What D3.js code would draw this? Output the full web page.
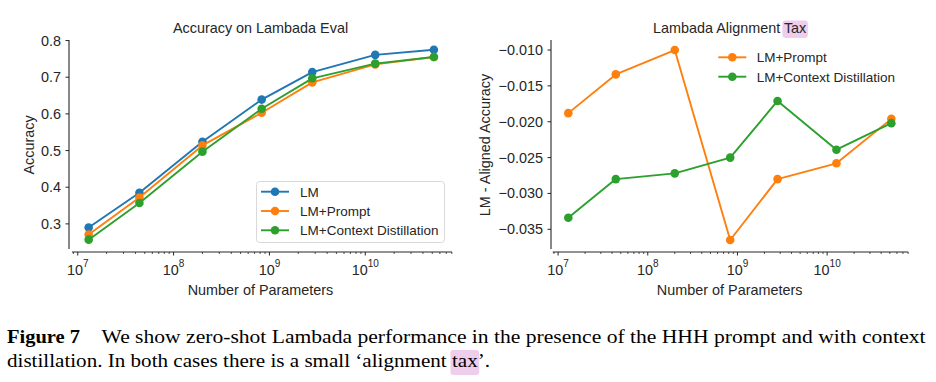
<!DOCTYPE html>
<html><head><meta charset="utf-8">
<script src="https://cdn.jsdelivr.net/npm/d3@7"></script>
<style>
html,body{margin:0;padding:0;background:#fff;}
svg{display:block;}
</style></head>
<body>
<svg id="c" width="936" height="382"></svg>
<script>
// ---- data ----
const params = [1.3e7, 4.4e7, 2.0e8, 8.3e8, 2.8e9, 1.27e10, 5.2e10];
const accLM      = [0.290, 0.385, 0.524, 0.639, 0.714, 0.761, 0.775];
const accPrompt  = [0.271, 0.372, 0.514, 0.603, 0.686, 0.735, 0.755];
const accContext = [0.257, 0.357, 0.497, 0.614, 0.697, 0.737, 0.755];
const taxPrompt  = [-0.0188, -0.0134, -0.0100, -0.0365, -0.0280, -0.0258, -0.0196];
const taxContext = [-0.0334, -0.0280, -0.0272, -0.0250, -0.0171, -0.0239, -0.0202];
const leftYTicks  = [0.3, 0.4, 0.5, 0.6, 0.7, 0.8];
const rightYTicks = [-0.035, -0.030, -0.025, -0.020, -0.015, -0.010];
const xMajor = [1e7, 1e8, 1e9, 1e10];
const seriesNames = ["LM", "LM+Prompt", "LM+Context Distillation"];
const colors = {"LM":"#1f77b4", "LM+Prompt":"#ff7f0e", "LM+Context Distillation":"#2ca02c"};

const svg = d3.select("#c");
const bg = svg.append("g");   // layer for highlight boxes
const ink = "#262626";
const FONT = "'Liberation Sans', Arial, sans-serif";
const HILITE = "#efcdec";

function drawPanel(opt){
  const g = svg.append("g");
  const x = d3.scaleLog().domain([Math.pow(10,6.94), Math.pow(10,10.905)]).range([opt.x0, opt.x1]);
  const y = d3.scaleLinear().domain(opt.yDomain).range([249, 40]);
  g.append("line").attr("x1", opt.ySpineX).attr("x2", opt.ySpineX).attr("y1", 40).attr("y2", 249)
    .attr("stroke", ink).attr("stroke-width", 1.1);
  const xsY = 252;
  g.append("line").attr("x1", opt.x0).attr("x2", opt.x1).attr("y1", xsY).attr("y2", xsY)
    .attr("stroke", ink).attr("stroke-width", 1.1);
  opt.yTicks.forEach(t=>{
    g.append("line").attr("x1", opt.ySpineX-3.5).attr("x2", opt.ySpineX).attr("y1", y(t)).attr("y2", y(t))
      .attr("stroke", ink).attr("stroke-width", 1);
    g.append("text").attr("x", opt.ySpineX-8).attr("y", y(t)+5).attr("text-anchor","end")
      .attr("font-family", FONT).attr("font-size", 14.4).attr("fill", ink).text(opt.yFmt(t));
  });
  const dom = x.domain();
  for (let e=6; e<=10; e++){
    for (let m=1; m<=9; m++){
      const v = m*Math.pow(10,e);
      if (v < dom[0] || v > dom[1]) continue;
      const major = (m===1);
      g.append("line").attr("x1", x(v)).attr("x2", x(v)).attr("y1", xsY).attr("y2", xsY + (major?3.5:2))
        .attr("stroke", ink).attr("stroke-width", major?1:0.8);
    }
  }
  xMajor.forEach(v=>{
    const t = g.append("text").attr("x", x(v)).attr("y", 275).attr("text-anchor","middle")
      .attr("font-family", FONT).attr("font-size", 14.4).attr("fill", ink);
    t.append("tspan").text("10");
    t.append("tspan").attr("dy", -8).attr("font-size", 10).text(String(Math.round(Math.log10(v))));
  });
  g.append("text").attr("x", (opt.ySpineX+opt.x1)/2).attr("y", 295).attr("text-anchor","middle")
    .attr("font-family", FONT).attr("font-size", 14.4).attr("fill", ink).text("Number of Parameters");
  g.append("text").attr("transform", `translate(${opt.yLabelX},145) rotate(-90)`).attr("text-anchor","middle")
    .attr("font-family", FONT).attr("font-size", 14.4).attr("fill", ink).text(opt.yLabel);
  const tt = g.append("text").attr("x", (opt.ySpineX+opt.x1)/2).attr("y", 33).attr("text-anchor","middle")
    .attr("font-family", FONT).attr("font-size", 14.4).attr("fill", ink);
  tt.append("tspan").text(opt.title);
  if (opt.titleHi){
    tt.append("tspan").text(" ");
    tt.append("tspan").text(opt.titleHi);
    const node = tt.node();
    const n = node.getNumberOfChars();
    const k = opt.title.length + 1;
    const st = node.getStartPositionOfChar(k);
    const en = node.getEndPositionOfChar(n-1);
    bg.append("rect").attr("x", st.x-1.5).attr("y", 20.5).attr("width", en.x-st.x+3).attr("height", 17.5)
      .attr("rx", 3).attr("fill", HILITE);
  }
  const line = d3.line().x((d,i)=>x(params[i])).y(d=>y(d));
  opt.series.forEach(s=>{
    g.append("path").attr("d", line(s.values)).attr("fill","none").attr("stroke", colors[s.name])
      .attr("stroke-width", 1.9).attr("stroke-linejoin","round");
    s.values.forEach((v,i)=>{
      g.append("circle").attr("cx", x(params[i])).attr("cy", y(v)).attr("r", 4.3).attr("fill", colors[s.name]);
    });
  });
  const L = opt.legend;
  if (L.frame){
    g.append("rect").attr("x", L.frame[0]).attr("y", L.frame[1]).attr("width", L.frame[2]).attr("height", L.frame[3])
      .attr("rx", 3).attr("fill", "#fff").attr("fill-opacity", 0.85).attr("stroke", "#d9d9d9").attr("stroke-width", 1);
  }
  opt.series.forEach((s,i)=>{
    const yy = L.y0 + i*L.dy;
    g.append("line").attr("x1", L.lx0).attr("x2", L.lx0+28).attr("y1", yy).attr("y2", yy)
      .attr("stroke", colors[s.name]).attr("stroke-width", 1.9);
    g.append("circle").attr("cx", L.lx0+14).attr("cy", yy).attr("r", 4.3).attr("fill", colors[s.name]);
    g.append("text").attr("x", L.tx).attr("y", yy+5).attr("font-family", FONT).attr("font-size", 13.5)
      .attr("fill", ink).text(s.name);
  });
}

drawPanel({
  x0: 72, x1: 452, ySpineX: 69, yDomain: [0.2315, 0.8015], yTicks: leftYTicks,
  yFmt: d3.format(".1f"), yLabel: "Accuracy", yLabelX: 34,
  title: "Accuracy on Lambada Eval",
  series: [{name:seriesNames[0], values:accLM},{name:seriesNames[1], values:accPrompt},{name:seriesNames[2], values:accContext}],
  legend: {frame:[256.5, 181.5, 188, 61], y0: 191.7, dy: 19.3, lx0: 261, tx: 300}
});
drawPanel({
  x0: 552.7, x1: 908.3, ySpineX: 551, yDomain: [-0.03775, -0.0086], yTicks: rightYTicks,
  yFmt: d => d3.format(".3f")(d).replace("-", "\u2212"), yLabel: "LM - Aligned Accuracy", yLabelX: 490,
  title: "Lambada Alignment", titleHi: "Tax",
  series: [{name:seriesNames[1], values:taxPrompt},{name:seriesNames[2], values:taxContext}],
  legend: {y0: 57.3, dy: 19.4, lx0: 718.3, tx: 756.7}
});

// ---- caption ----
const CF = "'Liberation Serif', 'Times New Roman', serif";
svg.append("text").attr("x", 7).attr("y", 343).attr("font-family", CF).attr("font-size", 19.5)
  .attr("font-weight", "bold").attr("fill", "#000")
  .attr("textLength", 73).attr("lengthAdjust", "spacingAndGlyphs").text("Figure 7");
svg.append("text").attr("x", 101.5).attr("y", 343).attr("font-family", CF).attr("font-size", 19.5)
  .attr("fill", "#000").attr("textLength", 824).attr("lengthAdjust", "spacingAndGlyphs")
  .text("We show zero-shot Lambada performance in the presence of the HHH prompt and with context");
const capPre = "distillation. In both cases there is a small \u2018alignment ";
const cap2 = svg.append("text").attr("x", 7).attr("y", 367).attr("font-family", CF).attr("font-size", 19.5)
  .attr("fill", "#000").attr("textLength", 483).attr("lengthAdjust", "spacingAndGlyphs");
cap2.append("tspan").text(capPre);
cap2.append("tspan").text("tax");
cap2.append("tspan").text("\u2019.");
{
  const node = cap2.node();
  const st = node.getStartPositionOfChar(capPre.length);
  const en = node.getEndPositionOfChar(capPre.length + 2);
  bg.append("rect").attr("x", st.x-1.5).attr("y", 350).attr("width", en.x-st.x+3).attr("height", 25)
    .attr("rx", 3).attr("fill", HILITE);
}
</script>
</body></html>
